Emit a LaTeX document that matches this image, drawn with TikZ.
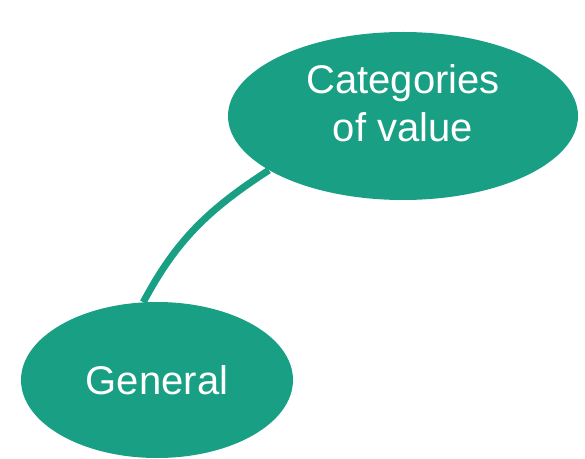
\documentclass[tikz,border=0pt]{standalone}
\usepackage{fontspec}
\setmainfont{Liberation Sans}
\usetikzlibrary{shapes.geometric,backgrounds}
\definecolor{ValueTeal}{RGB}{25,160,132}

\begin{document}
\begin{tikzpicture}[x=1pt,y=1pt,
    blob/.style={ellipse,fill=ValueTeal,inner sep=0pt},
    lbl/.style={text=white,align=center,font=\fontsize{40}{48}\selectfont},
    link/.style={line width=7pt,ValueTeal}]
      \useasboundingbox (0,0) rectangle (585,458);
      \node[blob,minimum width=350,minimum height=168] (cat) at (403,342) {};
      \node[blob,minimum width=272,minimum height=156] (gen) at (157,78) {};
      \node[lbl] (catlabel) at (403,354.5) {Categories\\of value};
      \node[lbl] (genlabel) at (gen.center) {General};
      % connector goes behind the ellipses
      \begin{scope}[on background layer]
        \draw[link] (gen.100) to[out=62,in=213] (cat.202);
      \end{scope}
    \end{tikzpicture}
\end{document}
